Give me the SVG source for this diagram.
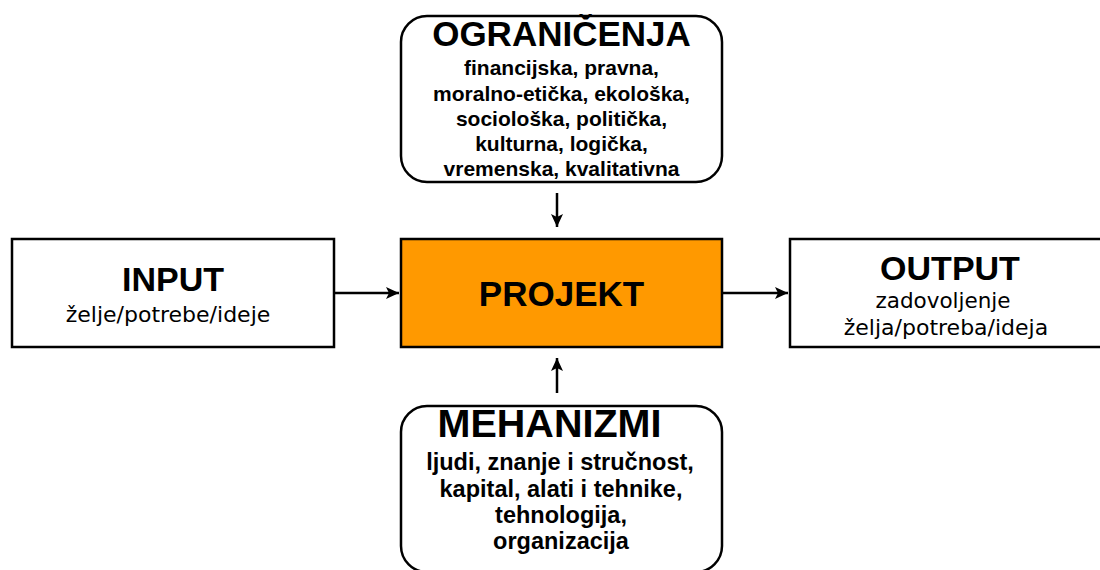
<svg xmlns="http://www.w3.org/2000/svg" width="1100" height="570" viewBox="0 0 1100 570">
  <style>
    .box { fill: #ffffff; stroke: #000000; stroke-width: 2.5; }
    .core { fill: #ff9900; stroke: #000000; stroke-width: 2.5; }
    .title { font-family: "Liberation Sans", Arial, sans-serif; font-weight: bold; font-size: 35px; fill: #000; text-anchor: middle; }
    .body { font-family: "Liberation Sans", Arial, sans-serif; font-weight: bold; font-size: 21px; fill: #000; text-anchor: middle; }
    .body-lg { font-family: "Liberation Sans", Arial, sans-serif; font-weight: bold; font-size: 23.5px; fill: #000; text-anchor: middle; }
    .io-title { font-family: "Liberation Sans", Arial, sans-serif; font-weight: bold; font-size: 34px; fill: #000; text-anchor: middle; }
    .io-body { font-family: "DejaVu Sans", Verdana, sans-serif; font-size: 22px; fill: #000; text-anchor: middle; }
    .link { stroke: #000000; stroke-width: 2.5; fill: none; }
  </style>
  <defs>
    <marker id="arrow" viewBox="0 0 13 12" refX="13" refY="6" markerWidth="13" markerHeight="12" markerUnits="userSpaceOnUse" orient="auto">
      <path d="M0,0 L13,6 L0,12 L3,6 Z" fill="#000"/>
    </marker>
  </defs>

  <g id="connectors">
    <line class="link" x1="557" y1="193" x2="557" y2="227" marker-end="url(#arrow)"/>
    <line class="link" x1="557" y1="393" x2="557" y2="358" marker-end="url(#arrow)"/>
    <line class="link" x1="335" y1="293" x2="399" y2="293" marker-end="url(#arrow)"/>
    <line class="link" x1="723" y1="293" x2="788" y2="293" marker-end="url(#arrow)"/>
  </g>

  <g id="ogranicenja">
    <rect class="box" x="401" y="16" width="321" height="166" rx="26" ry="26"/>
    <text class="title" x="561.5" y="46">OGRANIČENJA</text>
    <text class="body" x="561.5" y="75">financijska, pravna,</text>
    <text class="body" x="561.5" y="100.5">moralno-etička, ekološka,</text>
    <text class="body" x="561.5" y="125.5">sociološka, politička,</text>
    <text class="body" x="561.5" y="151">kulturna, logička,</text>
    <text class="body" x="561.5" y="176">vremenska, kvalitativna</text>
  </g>

  <g id="input">
    <rect class="box" x="12" y="239" width="322" height="108"/>
    <text class="io-title" x="173" y="291">INPUT</text>
    <text class="io-body" x="168" y="322">želje/potrebe/ideje</text>
  </g>

  <g id="projekt">
    <rect class="core" x="401" y="239" width="321" height="108"/>
    <text class="title" x="561.5" y="306">PROJEKT</text>
  </g>

  <g id="output">
    <rect class="box" x="790" y="239" width="330" height="108"/>
    <text class="io-title" x="950" y="280">OUTPUT</text>
    <text class="io-body" x="943" y="308" style="font-size:21.5px">zadovoljenje</text>
    <text class="io-body" x="946" y="335">želja/potreba/ideja</text>
  </g>

  <g id="mehanizmi">
    <rect class="box" x="401" y="406" width="321" height="166" rx="26" ry="26"/>
    <text class="title" x="549.5" y="437" style="font-size:39.5px">MEHANIZMI</text>
    <text class="body-lg" x="560" y="470">ljudi, znanje i stručnost,</text>
    <text class="body-lg" x="561" y="497">kapital, alati i tehnike,</text>
    <text class="body-lg" x="561" y="523">tehnologija,</text>
    <text class="body-lg" x="561" y="549">organizacija</text>
  </g>
</svg>
